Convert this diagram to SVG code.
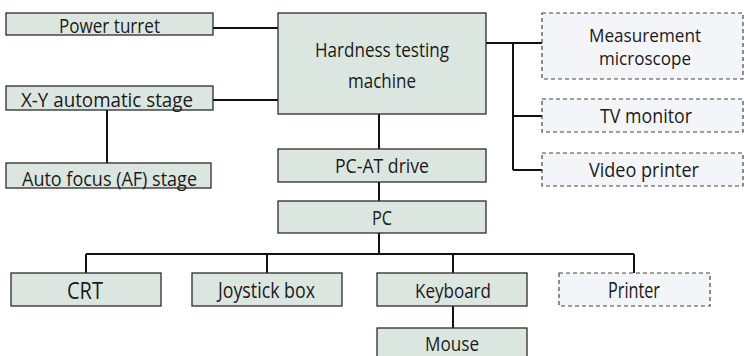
<svg xmlns="http://www.w3.org/2000/svg" width="744" height="356" viewBox="0 0 744 356">
<style>
.b{fill:#dce6e0;stroke:#2b2b2b;stroke-width:1.3}
.d{fill:#f4f5f9;stroke:#444;stroke-width:1.2;stroke-dasharray:4 3}
text{font-family:"Open Sans","Noto Sans",sans-serif;font-size:19.5px;fill:#1a1a1a;text-anchor:middle}
.c{fill:none;stroke:#111;stroke-width:2}
</style>
<rect width="744" height="356" fill="#fff"/>
<g id="connectors">
<path class="c" d="M213 28H278M213 100H278M107 110V163M379 114V149M379 182V201M379 233V254M86 254H634M86 254V273M267 254V273M453 254V273M634 254V273M453 306V328M486 43H542M513 43V170M513 116H542M513 170H542"/>
</g>
<g id="power-turret"><rect class="b" x="6" y="13" width="207" height="22"/><text x="109.5" y="33" textLength="101" lengthAdjust="spacingAndGlyphs">Power turret</text></g>
<g id="xy-stage"><rect class="b" x="6" y="86" width="207" height="24"/><text x="107" y="107" textLength="172" lengthAdjust="spacingAndGlyphs">X-Y automatic stage</text></g>
<g id="af-stage"><rect class="b" x="6" y="163" width="205" height="25"/><text x="109.5" y="186" textLength="175" lengthAdjust="spacingAndGlyphs">Auto focus (AF) stage</text></g>
<g id="hardness"><rect class="b" x="278" y="13" width="208" height="101"/><text x="382" y="57" textLength="134" lengthAdjust="spacingAndGlyphs">Hardness testing</text><text x="382" y="87.5" textLength="68" lengthAdjust="spacingAndGlyphs">machine</text></g>
<g id="pc-at"><rect class="b" x="278" y="149" width="208" height="33"/><text x="382" y="173" textLength="94" lengthAdjust="spacingAndGlyphs">PC-AT drive</text></g>
<g id="pc"><rect class="b" x="278" y="201" width="208" height="32"/><text x="382" y="225" textLength="20" lengthAdjust="spacingAndGlyphs">PC</text></g>
<g id="measurement"><rect class="d" x="542" y="13" width="201" height="66"/><text x="645" y="42" style="font-size:18.5px" textLength="112" lengthAdjust="spacingAndGlyphs">Measurement</text><text x="645" y="64.5" style="font-size:18.5px" textLength="92" lengthAdjust="spacingAndGlyphs">microscope</text></g>
<g id="tv"><rect class="d" x="542" y="99" width="201" height="33"/><text x="646" y="123" textLength="92" lengthAdjust="spacingAndGlyphs">TV monitor</text></g>
<g id="video-printer"><rect class="d" x="542" y="153" width="201" height="33"/><text x="644" y="177" textLength="110" lengthAdjust="spacingAndGlyphs">Video printer</text></g>
<g id="crt"><rect class="b" x="11" y="273" width="150" height="33"/><text x="85" y="298.5" style="font-size:23.5px" textLength="36" lengthAdjust="spacingAndGlyphs">CRT</text></g>
<g id="joystick"><rect class="b" x="192" y="273" width="150" height="33"/><text x="266.5" y="298" style="font-size:22px" textLength="97" lengthAdjust="spacingAndGlyphs">Joystick box</text></g>
<g id="keyboard"><rect class="b" x="377" y="273" width="150" height="33"/><text x="453" y="297.5" style="font-size:20.5px" textLength="76" lengthAdjust="spacingAndGlyphs">Keyboard</text></g>
<g id="printer"><rect class="d" x="559" y="273" width="151" height="33"/><text x="634" y="297.5" style="font-size:21px" textLength="52" lengthAdjust="spacingAndGlyphs">Printer</text></g>
<g id="mouse"><rect class="b" x="377" y="328" width="150" height="30"/><text x="452" y="351" style="font-size:20.5px" textLength="54" lengthAdjust="spacingAndGlyphs">Mouse</text></g>
</svg>
